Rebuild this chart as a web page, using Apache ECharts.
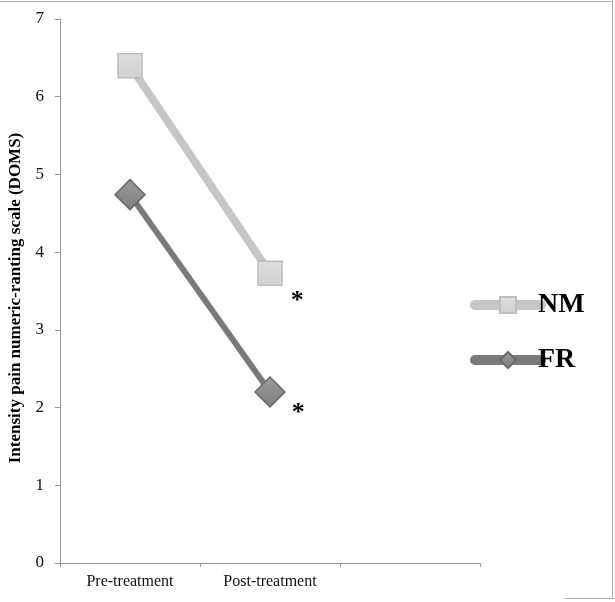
<!DOCTYPE html>
<html><head><meta charset="utf-8">
<script src="https://cdn.jsdelivr.net/npm/echarts@6/dist/echarts.min.js"></script>
<style>html,body{margin:0;padding:0;background:#fff}#c{width:615px;height:602px}</style>
</head><body><div id="c"></div>
<script>
const categories = ['Pre-treatment', 'Post-treatment', ''];
const seriesNames = ['NM', 'FR'];
const nmValues = [6.40, 3.73, null];
const frValues = [4.74, 2.20, null];
const yTicks = [0, 1, 2, 3, 4, 5, 6, 7];
const yTitle = 'Intensity pain numeric-ranting scale (DOMS)';
const sigMark = '*';

const serif = '"Liberation Serif", "DejaVu Serif", serif';
const nmLine = '#c6c6c6', frLine = '#7a7a7a';
const chart = echarts.init(document.getElementById('c'), null, {renderer: 'canvas'});
chart.setOption({
  backgroundColor: '#fff',
  animation: false,
  grid: {left: 60, right: 135, top: 19, bottom: 39, containLabel: false, outerBoundsMode: 'none'},
  xAxis: {
    type: 'category', data: categories, boundaryGap: true,
    axisLine: {lineStyle: {color: '#9a9a9a', width: 1}},
    axisTick: {show: true, length: 4, lineStyle: {color: '#9a9a9a'}},
    axisLabel: {color: '#111', fontFamily: serif, fontSize: 16, margin: 11}
  },
  yAxis: {
    type: 'value', min: yTicks[0], max: yTicks[yTicks.length - 1], interval: 1,
    name: yTitle, nameLocation: 'middle', nameGap: 36, nameRotate: 90,
    nameTextStyle: {fontFamily: serif, fontSize: 17, fontWeight: 'bold', color: '#000', padding: [0, 14, 0, 0]},
    splitLine: {show: false},
    axisLine: {show: true, lineStyle: {color: '#9a9a9a', width: 1}},
    axisTick: {show: true, length: 5, lineStyle: {color: '#9a9a9a'}},
    axisLabel: {color: '#111', fontFamily: serif, fontSize: 17, margin: 16}
  },
  legend: {
    orient: 'vertical', left: 465, top: 286, itemGap: 27,
    itemWidth: 66, itemHeight: 20,
    textStyle: {fontFamily: serif, fontSize: 28, fontWeight: 'bold', color: '#000', padding: [2, 0, 0, -8]},
    data: [
      {name: seriesNames[0], lineStyle: {width: 10, cap: 'round', color: nmLine}},
      {name: seriesNames[1], lineStyle: {width: 10, cap: 'round', color: frLine}}
    ]
  },
  series: [
    {
      name: seriesNames[0], type: 'line', data: nmValues,
      symbol: 'rect', symbolSize: 24,
      lineStyle: {color: nmLine, width: 8},
      itemStyle: {
        color: new echarts.graphic.LinearGradient(0, 0, 0, 1, [{offset: 0, color: '#dedede'}, {offset: 1, color: '#d0d0d0'}]),
        borderColor: '#bdbdbd', borderWidth: 1.5
      },
      label: {
        show: true, position: 'right', offset: [3, 28],
        formatter: p => p.dataIndex === 1 ? sigMark : '',
        fontFamily: serif, fontSize: 26, fontWeight: 'bold', color: '#000'
      },
      z: 2
    },
    {
      name: seriesNames[1], type: 'line', data: frValues,
      symbol: 'diamond', symbolSize: 30,
      lineStyle: {color: frLine, width: 6},
      itemStyle: {
        color: new echarts.graphic.LinearGradient(0, 0, 0, 1, [{offset: 0, color: '#9c9c9c'}, {offset: 1, color: '#7e7e7e'}]),
        borderColor: '#6a6a6a', borderWidth: 1.5
      },
      label: {
        show: true, position: 'right', offset: [1, 21],
        formatter: p => p.dataIndex === 1 ? sigMark : '',
        fontFamily: serif, fontSize: 26, fontWeight: 'bold', color: '#000'
      },
      z: 3
    }
  ],
  graphic: [
    {type: 'line', shape: {x1: 0, y1: 1.5, x2: 612, y2: 1.5}, style: {stroke: '#b0b0b0', lineWidth: 1}},
    {type: 'line', shape: {x1: 612.5, y1: 0, x2: 612.5, y2: 598}, style: {stroke: '#b0b0b0', lineWidth: 1}},
    {type: 'line', shape: {x1: 565, y1: 598.5, x2: 615, y2: 598.5}, style: {stroke: '#b0b0b0', lineWidth: 1}}
  ]
});
</script></body></html>
